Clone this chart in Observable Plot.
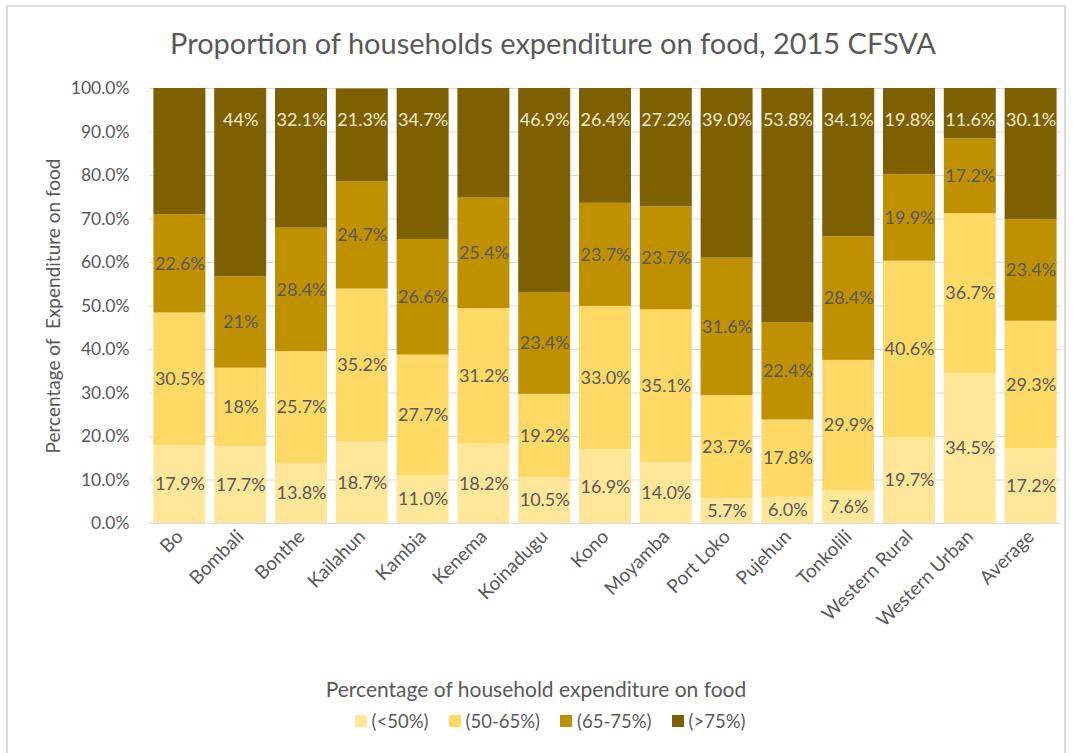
<!DOCTYPE html>
<html><head><meta charset="utf-8">
<script src="https://cdn.jsdelivr.net/npm/d3@7"></script>
<script src="https://cdn.jsdelivr.net/npm/@observablehq/plot@0.6"></script>
<style>
body{margin:0;background:#fff;font-family:Lato,sans-serif;}
#wrap{position:relative;width:1073px;height:753px;overflow:hidden;background:#fff;}
#frame{position:absolute;left:6px;top:5px;width:1060px;height:800px;border:2px solid #d9d9d9;box-sizing:border-box;}
#title{position:absolute;top:25px;left:0;width:1106px;text-align:center;font-size:29px;color:#595959;white-space:nowrap;}
#chart{position:absolute;top:70px;left:0;}
#xtitle{position:absolute;top:676px;left:0;width:1072px;text-align:center;font-size:21px;color:#595959;}
#legend{position:absolute;top:710px;left:0;width:1100px;display:flex;justify-content:center;gap:20px;font-size:18.5px;color:#595959;}
#legend .item{display:flex;align-items:center;gap:5px;}
#legend .sw{width:12px;height:12px;display:inline-block;}
</style>
</head><body>
<div id="wrap">
  <div id="frame"></div>
  <div id="title"></div>
  <div id="chart"></div>
  <div id="xtitle"></div>
  <div id="legend"></div>
</div>
<script>
const titleText = "Proportion of households expenditure on food, 2015 CFSVA";
const yTitle = "Percentage of\u00a0 Expenditure on food";
const xTitle = "Percentage of household expenditure on food";

const districts = ["Bo","Bombali","Bonthe","Kailahun","Kambia","Kenema","Koinadugu","Kono","Moyamba","Port Loko","Pujehun","Tonkolili","Western Rural","Western Urban","Average"];
const seriesNames = ["(<50%)","(50-65%)","(65-75%)","(>75%)"];
const seriesColors = ["#FFE699","#FFD966","#BF9000","#7F6000"];

const below50    = [17.9,17.7,13.8,18.7,11.0,18.2,10.5,16.9,14.0,5.7,6.0,7.6,19.7,34.5,17.2];
const from50to65 = [30.5,18,25.7,35.2,27.7,31.2,19.2,33.0,35.1,23.7,17.8,29.9,40.6,36.7,29.3];
const from65to75 = [22.6,21,28.4,24.7,26.6,25.4,23.4,23.7,23.7,31.6,22.4,28.4,19.9,17.2,23.4];
const above75    = [29.0,44,32.1,21.3,34.7,25.2,46.9,26.4,27.2,39.0,53.8,34.1,19.8,11.6,30.1];
// decimals shown in each data label (series x district)
const labelDecimals = [
  [1,1,1,1,1,1,1,1,1,1,1,1,1,1,1],
  [1,0,1,1,1,1,1,1,1,1,1,1,1,1,1],
  [1,0,1,1,1,1,1,1,1,1,1,1,1,1,1],
  [1,0,1,1,1,1,1,1,1,1,1,1,1,1,1]
];
const showTopLabel = [false,true,true,true,true,false,true,true,true,true,true,true,true,true,true];
const yTicks = [0,10,20,30,40,50,60,70,80,90,100];

const seriesValues = [below50, from50to65, from65to75, above75];
const rows = districts.flatMap((d, i) => seriesNames.map((s, j) => ({
  district: d, series: s, value: seriesValues[j][i],
  label: seriesValues[j][i].toFixed(labelDecimals[j][i]) + "%",
  top: j === seriesNames.length - 1, show: showTopLabel[i]
})));

document.getElementById("title").textContent = titleText;
document.getElementById("xtitle").textContent = xTitle;
const lg = document.getElementById("legend");
seriesNames.forEach((s, j) => {
  const it = document.createElement("div"); it.className = "item";
  const sw = document.createElement("span"); sw.className = "sw"; sw.style.background = seriesColors[j];
  const tx = document.createElement("span"); tx.textContent = s;
  it.appendChild(sw); it.appendChild(tx); lg.appendChild(it);
});

const chart = Plot.plot({
  width: 1073, height: 570,
  marginTop: 18, marginBottom: 117, marginLeft: 149, marginRight: 12,
  style: {fontFamily: "Lato, sans-serif", fontSize: "16px", color: "#595959", background: "transparent"},
  x: {domain: districts, paddingInner: 0.145, paddingOuter: 0.0725, round: false, label: null},
  y: {domain: [0, 100], label: null},
  color: {domain: seriesNames, range: seriesColors},
  marks: [
    Plot.ruleY(yTicks, {stroke: "#d9d9d9", strokeWidth: 1}),
    Plot.barY(rows, {x: "district", y: "value", fill: "series", clip: true}),
    Plot.text(rows.filter(r => !r.top), Plot.stackY({x: "district", y: "value", z: "series", text: "label", fill: "#595959", fontSize: 18})),
    Plot.text(rows.filter(r => r.top && r.show), {x: "district", frameAnchor: "top", dy: 25, text: "label", fill: "#f3ead0", fontSize: 18}),
    Plot.axisY({ticks: yTicks, tickFormat: d => d.toFixed(1) + "%", tickSize: 0, tickPadding: 20, fontSize: 17.5, label: null}),
    Plot.axisX({tickRotate: -45, tickSize: 0, tickPadding: 10, fontSize: 19, label: null}),
    Plot.text([yTitle], {frameAnchor: "left", textAnchor: "middle", dx: -96, rotate: -90, fill: "#595959", fontSize: 19})
  ]
});
document.getElementById("chart").appendChild(chart);
</script>
</body></html>
